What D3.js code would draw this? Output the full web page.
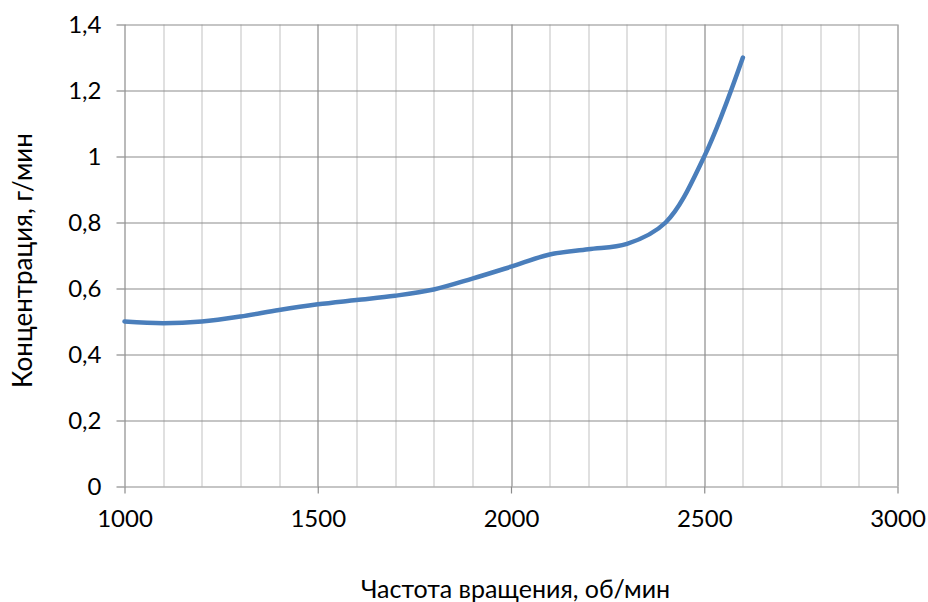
<!DOCTYPE html>
<html>
<head>
<meta charset="utf-8">
<script src="https://cdn.jsdelivr.net/npm/d3@7"></script>
<style>
    body { margin: 0; background: #fff; }
    text { font-family: Lato, "Open Sans", sans-serif; fill: #000; }
</style>
</head>
<body>
<svg id="chart-svg"></svg>
<script>
// Data
var rpm = [1000, 1100, 1200, 1300, 1400, 1500, 1600, 1700, 1800, 1900, 2000, 2100, 2200, 2300, 2400, 2500, 2600];
var conc = [0.50, 0.495, 0.50, 0.515, 0.535, 0.552, 0.565, 0.578, 0.597, 0.63, 0.666, 0.703, 0.719, 0.735, 0.80, 1.0, 1.30];

var xTicks = [1000, 1500, 2000, 2500, 3000];
var yTicks = [0, 0.2, 0.4, 0.6, 0.8, 1.0, 1.2, 1.4];
var xTitle = 'Частота вращения, об/мин';
var yTitle = 'Концентрация, г/мин';

var data = rpm.map(function(r, i) { return { x: r, y: conc[i] }; });

// Set up sizes
var totalWidth = 928, totalHeight = 602;
var margin = { top: 24.5, right: 30.5, bottom: 115.5, left: 124.5 };
var width = totalWidth - margin.left - margin.right;
var height = totalHeight - margin.top - margin.bottom;

var xScale = d3.scaleLinear().domain([1000, 3000]).range([0, width]);
var yScale = d3.scaleLinear().domain([0, 1.4]).range([height, 0]);

var svg = d3.select('#chart-svg')
    .attr('width', totalWidth)
    .attr('height', totalHeight)
    .append('g')
    .attr('transform', 'translate(' + margin.left + ',' + margin.top + ')');

// Minor vertical gridlines every 100
svg.append('g')
    .selectAll('line')
    .data(d3.range(1100, 3000, 100).filter(function(d) { return d % 500 !== 0; }))
    .enter()
    .append('line')
    .attr('x1', function(d) { return Math.round(xScale(d)) + 0.5; })
    .attr('x2', function(d) { return Math.round(xScale(d)) + 0.5; })
    .attr('y1', 0)
    .attr('y2', height)
    .attr('stroke', '#d0d0d0')
    .attr('stroke-width', 1.3);

// Major vertical gridlines
svg.append('g')
    .selectAll('line')
    .data(xTicks.slice(1))
    .enter()
    .append('line')
    .attr('x1', function(d) { return Math.round(xScale(d)) + 0.5; })
    .attr('x2', function(d) { return Math.round(xScale(d)) + 0.5; })
    .attr('y1', 0)
    .attr('y2', height)
    .attr('stroke', '#8c8c8c')
    .attr('stroke-width', 1.2);

// Horizontal gridlines
svg.append('g')
    .selectAll('line')
    .data(yTicks.slice(1))
    .enter()
    .append('line')
    .attr('x1', 0)
    .attr('x2', width)
    .attr('y1', function(d) { return Math.round(yScale(d)) + 0.5; })
    .attr('y2', function(d) { return Math.round(yScale(d)) + 0.5; })
    .attr('stroke', '#8c8c8c')
    .attr('stroke-width', 1.2);

// Axes
var xAxis = d3.axisBottom(xScale)
    .tickValues(xTicks)
    .tickSize(7)
    .tickPadding(16)
    .tickFormat(d3.format('d'));

var yAxis = d3.axisLeft(yScale)
    .tickValues(yTicks)
    .tickSize(8)
    .tickPadding(15)
    .tickFormat(function(d) { return String(+d.toFixed(1)).replace('.', ','); });

var gx = svg.append('g')
    .attr('transform', 'translate(0,' + height + ')')
    .call(xAxis);

var gy = svg.append('g')
    .call(yAxis);

[gx, gy].forEach(function(g) {
    g.select('.domain').attr('stroke', '#8c8c8c').attr('stroke-width', 1.2);
    g.selectAll('.tick line').attr('stroke', '#8c8c8c').attr('stroke-width', 1.2);
    g.selectAll('.tick text')
        .style('font-family', 'Lato, "Open Sans", sans-serif')
        .style('font-size', '24px')
        .attr('fill', '#000');
});
gx.select('.domain').attr('d', 'M0,0.5H' + width);
gy.select('.domain').attr('d', 'M0.5,' + height + 'V0');

// Smoothed line
var line = d3.line()
    .x(function(d) { return xScale(d.x); })
    .y(function(d) { return yScale(d.y); })
    .curve(d3.curveCatmullRom.alpha(0.5));

svg.append('path')
    .datum(data)
    .attr('fill', 'none')
    .attr('stroke', '#4a7ebb')
    .attr('stroke-width', 4.5)
    .attr('stroke-linecap', 'round')
    .attr('d', line);

// Axis titles
svg.append('text')
    .attr('x', 391)
    .attr('y', height + 111)
    .attr('text-anchor', 'middle')
    .style('font-size', '25px')
    .text(xTitle);

svg.append('text')
    .attr('transform', 'translate(' + (-margin.left + 32) + ',' + (height / 2 + 5) + ') rotate(-90)')
    .attr('text-anchor', 'middle')
    .style('font-size', '26px')
    .text(yTitle);
</script>
</body>
</html>
